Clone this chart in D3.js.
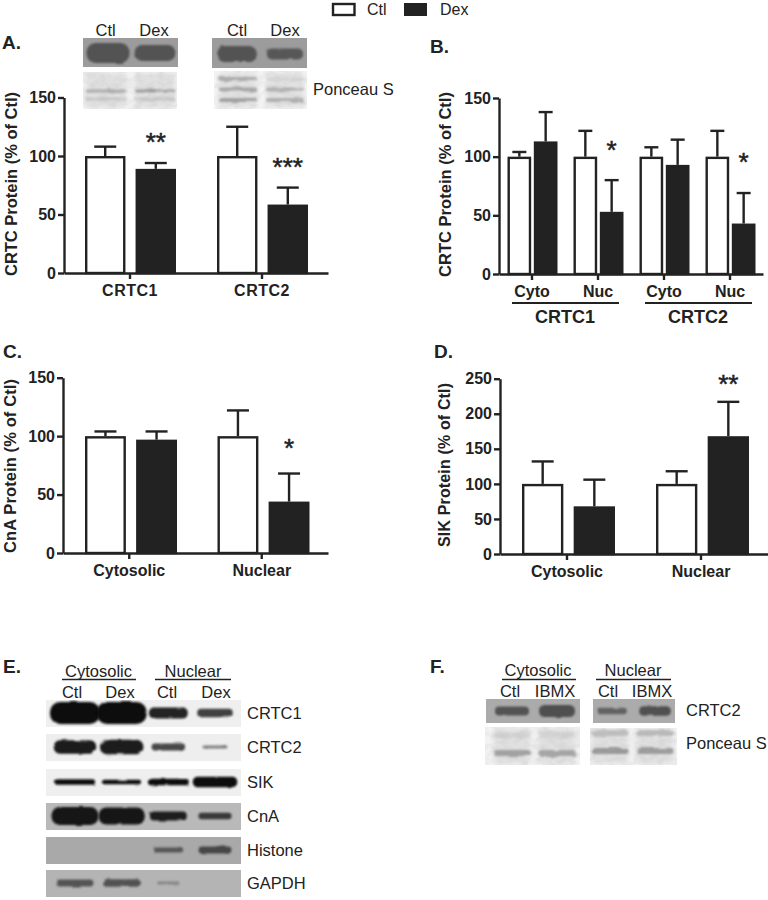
<!DOCTYPE html>
<html>
<head>
<meta charset="utf-8">
<script src="https://cdn.jsdelivr.net/npm/d3@7"></script>
<style>
  html, body { margin: 0; padding: 0; background: #fff; }
  svg { display: block; font-family: "Liberation Sans", Arial, sans-serif; }
  text { fill: #222; }
</style>
</head>
<body>
<div id="chart"></div>
<script>
// Values
const series = ['Ctl', 'Dex'];

const groupsA = ['CRTC1', 'CRTC2'];
const meanA = [[100, 89], [100, 58.5]];
const upperA = [[108, 94], [125, 73]];
const starsA = [[null, '**', 115], [null, '***', 94]];

const groupsB = ['Cyto 1', 'Nuc 1', 'Cyto 2', 'Nuc 2'];
const tickNamesB = ['Cyto', 'Nuc', 'Cyto', 'Nuc'];
const meanB = [[100, 113], [100, 53], [100, 93], [100, 43]];
const upperB = [[104, 138], [122, 80], [108, 114.5], [122, 69]];
const starsB = [null, [null, '*', 109], null, [null, '*', 99]];

const groupsC = ['Cytosolic', 'Nuclear'];
const meanC = [[100, 97], [100, 44]];
const upperC = [[104, 104], [122, 68]];
const starsC = [null, [null, '*', 93]];

const groupsD = ['Cytosolic', 'Nuclear'];
const meanD = [[100, 68], [100, 168]];
const upperD = [[132, 106], [118, 217]];
const starsD = [null, [null, '**', 248]];

const ticks150 = [0, 50, 100, 150];
const ticks250 = [0, 50, 100, 150, 200, 250];

// Blot band densities: one list per lane, one value per row
const blotA1 = [[1], [0.8]];
const blotA2 = [[0.95], [0.65]];
const ponceauA1 = [[0.6, 0.3], [0.8, 0.3]];
const ponceauA2 = [[0.55, 0.6, 0.65], [0.12, 0.5, 0.5]];
const blotE = {
  CRTC1: [[1], [1], [0.5], [0.38]],
  CRTC2: [[0.8], [0.85], [0.4], [0.14]],
  SIK: [[0.4], [0.32], [0.45], [0.75]],
  CnA: [[1], [0.95], [0.5], [0.36]],
  Histone: [[0], [0], [0.4], [0.55]],
  GAPDH: [[0.6], [0.62], [0.1], [0]]
};
const blotF1 = [[0.75], [1]];
const blotF2 = [[0.55], [0.8]];
const ponceauF1 = [[0.15, 0.75], [0.15, 0.7]];
const ponceauF2 = [[0.35, 0.75], [0.4, 0.7]];

const width = 768;
const height = 900;
const ink = '#222';
const font = '"Liberation Sans", Arial, sans-serif';

const svg = d3.select('#chart').append('svg')
  .attr('width', width)
  .attr('height', height)
  .attr('viewBox', [0, 0, width, height]);

const defs = svg.append('defs');

// uneven, soft band edges
function bandFilter(id, blur, wobble) {
  const f = defs.append('filter').attr('id', id)
    .attr('x', '-25%').attr('y', '-120%').attr('width', '150%').attr('height', '340%');
  f.append('feTurbulence').attr('type', 'fractalNoise').attr('baseFrequency', '0.07 0.2')
    .attr('numOctaves', 2).attr('seed', 4).attr('result', 'n');
  f.append('feDisplacementMap').attr('in', 'SourceGraphic').attr('in2', 'n')
    .attr('scale', wobble).attr('result', 'd');
  f.append('feGaussianBlur').attr('in', 'd').attr('stdDeviation', blur);
}
bandFilter('soft', 1.3, 2.5);
bandFilter('wavy', 1, 4);
defs.append('filter').attr('id', 'softer').attr('x', '-20%').attr('y', '-40%')
  .attr('width', '140%').attr('height', '180%')
  .append('feGaussianBlur').attr('stdDeviation', 2.6);

// film grain for the stained membranes
const grain = defs.append('filter').attr('id', 'grain').attr('x', 0).attr('y', 0).attr('width', 1).attr('height', 1);
grain.append('feTurbulence').attr('type', 'fractalNoise').attr('baseFrequency', '0.12 0.18')
  .attr('numOctaves', 3).attr('seed', 9);
grain.append('feColorMatrix').attr('type', 'matrix')
  .attr('values', '0 0 0 0 0.45  0 0 0 0 0.45  0 0 0 0 0.45  1.6 0 0 0 -0.62');

function label(x, y, str, size, opts = {}) {
  return svg.append('text')
    .attr('x', x).attr('y', y)
    .attr('text-anchor', opts.anchor || 'middle')
    .attr('font-size', size)
    .attr('font-weight', opts.bold ? 'bold' : 'normal')
    .text(str);
}

function hline(x1, x2, y, w = 1.3) {
  svg.append('line').attr('x1', x1).attr('x2', x2).attr('y1', y).attr('y2', y)
    .attr('stroke', ink).attr('stroke-width', w);
}

// one bar panel
function drawBars(p, groups, mean, upper, stars, tickVals) {
  const y = d3.scaleLinear().domain(p.domain).range([p.y0, p.y1]);
  const x = d3.scaleBand().domain(groups).range([p.x0, p.x1]);
  const inner = d3.scaleBand().domain(series).range(p.inner).paddingInner(p.gap);
  const g = svg.append('g');

  groups.forEach((name, i) => {
    const cell = g.append('g').attr('transform', `translate(${x(name)},0)`);
    series.forEach((s, j) => {
      const bx = inner(s);
      const bw = inner.bandwidth();
      const cx = bx + bw / 2;
      cell.append('line').attr('x1', cx).attr('x2', cx)
        .attr('y1', y(mean[i][j])).attr('y2', y(upper[i][j]))
        .attr('stroke', ink).attr('stroke-width', 2.4);
      cell.append('line').attr('x1', cx - p.cap / 2).attr('x2', cx + p.cap / 2)
        .attr('y1', y(upper[i][j])).attr('y2', y(upper[i][j]))
        .attr('stroke', ink).attr('stroke-width', 2.4);
      cell.append('rect')
        .attr('x', bx + 1.2).attr('width', bw - 2.4)
        .attr('y', y(mean[i][j]) + 1.2).attr('height', y(0) - y(mean[i][j]) - 1.2)
        .attr('fill', s === 'Ctl' ? '#fff' : ink)
        .attr('stroke', ink).attr('stroke-width', 2.4);
    });
    if (stars[i]) {
      cell.append('text')
        .attr('x', inner('Dex') + inner.bandwidth() / 2)
        .attr('y', y(stars[i][2]) + 13)
        .attr('text-anchor', 'middle')
        .attr('font-size', 26)
        .attr('stroke', ink)
        .attr('stroke-width', 0.5)
        .text(stars[i][1]);
    }
  });

  const yAxis = g.append('g').attr('transform', `translate(${p.x0},0)`)
    .call(d3.axisLeft(y).tickValues(tickVals).tickSize(6).tickSizeOuter(0).tickPadding(2));
  const xAxis = g.append('g').attr('transform', `translate(0,${p.y0})`)
    .call(d3.axisBottom(x).tickSize(6).tickSizeOuter(0).tickPadding(p.xPad)
      .tickFormat((d, i) => p.tickNames ? p.tickNames[i] : d));

  [yAxis, xAxis].forEach(a => {
    a.selectAll('.domain, line').attr('stroke', ink).attr('stroke-width', 2.4);
    a.selectAll('text').attr('fill', ink).attr('font-family', font)
      .attr('font-size', 16).attr('font-weight', 'bold');
  });
  xAxis.selectAll('text').attr('font-size', p.xSize || 16).attr('letter-spacing', p.xSpacing || 0);

  svg.append('text')
    .attr('transform', `translate(${p.titleX},${p.titleY}) rotate(-90)`)
    .attr('font-size', p.titleSize)
    .attr('font-weight', 'bold')
    .attr('textLength', p.titleLen)
    .attr('lengthAdjust', 'spacing')
    .text(p.title);
}

drawBars({
  x0: 64, x1: 328, y0: 273, y1: 97.5, domain: [0, 150], inner: [21, 112], gap: 0.2, cap: 22,
  xPad: 6, xSpacing: 0.5, title: 'CRTC Protein (% of Ctl)', titleX: 17, titleY: 276, titleSize: 16.5, titleLen: 184
}, groupsA, meanA, upperA, starsA, ticks150);

drawBars({
  x0: 499, x1: 763, y0: 274, y1: 98, domain: [0, 150], inner: [8.5, 58.5], gap: 0.1, cap: 14,
  xPad: 6, tickNames: tickNamesB, title: 'CRTC Protein (% of Ctl)', titleX: 451, titleY: 277, titleSize: 16.5, titleLen: 185
}, groupsB, meanB, upperB, starsB, ticks150);

drawBars({
  x0: 63, x1: 328, y0: 553, y1: 377.7, domain: [0, 150], inner: [22, 114], gap: 0.2, cap: 22,
  xPad: 6, title: 'CnA Protein (% of Ctl)', titleX: 16, titleY: 553, titleSize: 16.5, titleLen: 174
}, groupsC, meanC, upperC, starsC, ticks150);

drawBars({
  x0: 500, x1: 768, y0: 554, y1: 378.7, domain: [0, 250], inner: [22, 115], gap: 0.2, cap: 22,
  xPad: 6, title: 'SIK Protein (% of Ctl)', titleX: 450, titleY: 547, titleSize: 16, titleLen: 164
}, groupsD, meanD, upperD, starsD, ticks250);

// group rules under the B panel
hline(512, 619, 303, 2);
hline(645, 752, 303, 2);
label(565, 323, 'CRTC1', 18, { bold: true });
label(698, 323, 'CRTC2', 18, { bold: true });

// panel letters
[['A.', 2, 49], ['B.', 430, 53], ['C.', 3, 358], ['D.', 434, 358], ['E.', 3, 673], ['F.', 430, 673]]
  .forEach(d => label(d[1], d[2], d[0], 19, { anchor: 'start', bold: true }));

// legend
svg.append('rect').attr('x', 333).attr('y', 4).attr('width', 21.5).attr('height', 11)
  .attr('fill', '#fff').attr('stroke', ink).attr('stroke-width', 2.4);
label(367, 15, 'Ctl', 16, { anchor: 'start' });
svg.append('rect').attr('x', 404).attr('y', 3).attr('width', 23).attr('height', 13).attr('fill', ink);
label(440, 15, 'Dex', 16, { anchor: 'start' });

// western / ponceau strips
let clipId = 0;
function drawBlot(s, lanes) {
  const id = 'clip' + (clipId++);
  defs.append('clipPath').attr('id', id).append('rect')
    .attr('x', s.x).attr('y', s.y).attr('width', s.w).attr('height', s.h);
  const g = svg.append('g').attr('clip-path', `url(#${id})`);
  g.append('rect').attr('x', s.x).attr('y', s.y).attr('width', s.w).attr('height', s.h).attr('fill', s.bg);

  const laneX = d3.scalePoint().domain(d3.range(lanes.length)).range(s.lanes);
  const rowY = d3.scalePoint().domain(d3.range(lanes[0].length)).range(s.rows);
  const bandW = d3.scaleLinear().domain([0, 1]).range([s.minW, s.maxW]);
  const ponceau = !!s.ponceau;

  lanes.forEach((rows, i) => {
    if (ponceau) {
      // faint smear down each lane
      g.append('rect')
        .attr('x', laneX(i) - s.maxW / 2).attr('width', s.maxW)
        .attr('y', s.y + 1).attr('height', s.h - 2)
        .attr('fill', s.smear).attr('filter', 'url(#softer)');
    }
    rows.forEach((d, r) => {
      if (d === 0) return;
      const w = ponceau ? s.maxW : bandW(Math.sqrt(d));
      const h = ponceau ? s.maxH : Math.max(3, s.maxH * d);
      g.append('rect')
        .attr('x', laneX(i) - w / 2).attr('width', w)
        .attr('y', rowY(r) - h / 2).attr('height', h)
        .attr('rx', Math.min(w, h) / 2.2)
        .attr('fill', s.ink)
        .attr('opacity', ponceau ? d : Math.min(1, 0.35 + d * s.gain))
        .attr('filter', ponceau ? 'url(#wavy)' : 'url(#soft)');
    });
  });

  if (ponceau) {
    g.append('rect').attr('x', s.x).attr('y', s.y).attr('width', s.w).attr('height', s.h)
      .attr('filter', 'url(#grain)').attr('opacity', 0.3);
  }
}

// panel A blots
label(105.7, 36, 'Ctl', 16.5); label(154, 36, 'Dex', 16.5);
label(237, 36, 'Ctl', 16.5); label(285, 36, 'Dex', 16.5);
drawBlot({ x: 83, y: 38, w: 95, h: 29, bg: '#9c9c9c', ink: '#525252', lanes: [108, 155], rows: [53, 53], minW: 20, maxW: 43, maxH: 20, gain: 0.9 }, blotA1);
drawBlot({ x: 212, y: 38, w: 95, h: 30, bg: '#9c9c9c', ink: '#525252', lanes: [237, 285], rows: [54, 54], minW: 20, maxW: 40, maxH: 17, gain: 0.9 }, blotA2);
drawBlot({ x: 83, y: 72, w: 94, h: 37, bg: '#f3f3f3', ink: '#8a8a8a', smear: '#e0e0e0', ponceau: true, lanes: [106, 155], rows: [91, 99], maxW: 40, maxH: 3 }, ponceauA1);
drawBlot({ x: 214, y: 71, w: 93, h: 38, bg: '#f5f5f5', ink: '#808080', smear: '#e2e2e2', ponceau: true, lanes: [238, 285], rows: [79, 100], maxW: 38, maxH: 4 }, ponceauA2);
label(313, 95, 'Ponceau S', 16.5, { anchor: 'start' });

// panel E blots
label(98.5, 677, 'Cytosolic', 16.5); label(193, 677, 'Nuclear', 16.5);
hline(62, 136, 679.5); hline(155, 231, 679.5);
series.concat(series).forEach((s, i) => label([72, 120, 167, 216][i], 698, s, 16.5));
const stripsE = [
  ['CRTC1', 700, '#efefef', '#0c0c0c', 22, 50, 12, 1.1],
  ['CRTC2', 734, '#eeeeee', '#1c1c1c', 17, 46, 12, 1.1],
  ['SIK', 769, '#efefef', '#0a0a0a', 14, 47, 28, 3],
  ['CnA', 803, '#b9b9b9', '#161616', 18, 47, 12, 1.2],
  ['Histone', 837, '#a9a9a9', '#3c3c3c', 13, 40, 12, 1],
  ['GAPDH', 870, '#b4b4b4', '#4a4a4a', 12, 44, 12, 0.9]
];
stripsE.forEach(d => {
  const cy = d[1] + 13;
  drawBlot({ x: 46, y: d[1], w: 195, h: 27, bg: d[2], ink: d[3], lanes: [75, 215], rows: [cy, cy], minW: d[6], maxW: d[5], maxH: d[4], gain: d[7] }, blotE[d[0]]);
  label(247, d[1] + 19, d[0], 16.5, { anchor: 'start' });
});

// panel F blots
label(538, 676, 'Cytosolic', 16.5); label(633, 676, 'Nuclear', 16.5);
hline(502, 576, 679.5); hline(596, 671, 679.5);
[['Ctl', 510], ['IBMX', 555], ['Ctl', 608], ['IBMX', 652]].forEach(d => label(d[1], 697, d[0], 16.5));
drawBlot({ x: 486, y: 699, w: 94, h: 24, bg: '#ababab', ink: '#505050', lanes: [512, 557], rows: [711, 711], minW: 20, maxW: 36, maxH: 12, gain: 0.8 }, blotF1);
drawBlot({ x: 593, y: 699, w: 82, h: 24, bg: '#ababab', ink: '#505050', lanes: [612, 655], rows: [711, 711], minW: 20, maxW: 33, maxH: 12, gain: 0.8 }, blotF2);
drawBlot({ x: 485, y: 727, w: 95, h: 38, bg: '#f3f3f3', ink: '#8c8c8c', smear: '#e0e0e0', ponceau: true, lanes: [512, 557], rows: [735, 753], maxW: 37, maxH: 6 }, ponceauF1);
drawBlot({ x: 590, y: 728, w: 87, h: 37, bg: '#f3f3f3', ink: '#808080', smear: '#e0e0e0', ponceau: true, lanes: [610, 655], rows: [733, 751], maxW: 37, maxH: 6 }, ponceauF2);
label(686, 716, 'CRTC2', 16.5, { anchor: 'start' });
label(686, 749, 'Ponceau S', 16.5, { anchor: 'start' });
</script>
</body>
</html>
